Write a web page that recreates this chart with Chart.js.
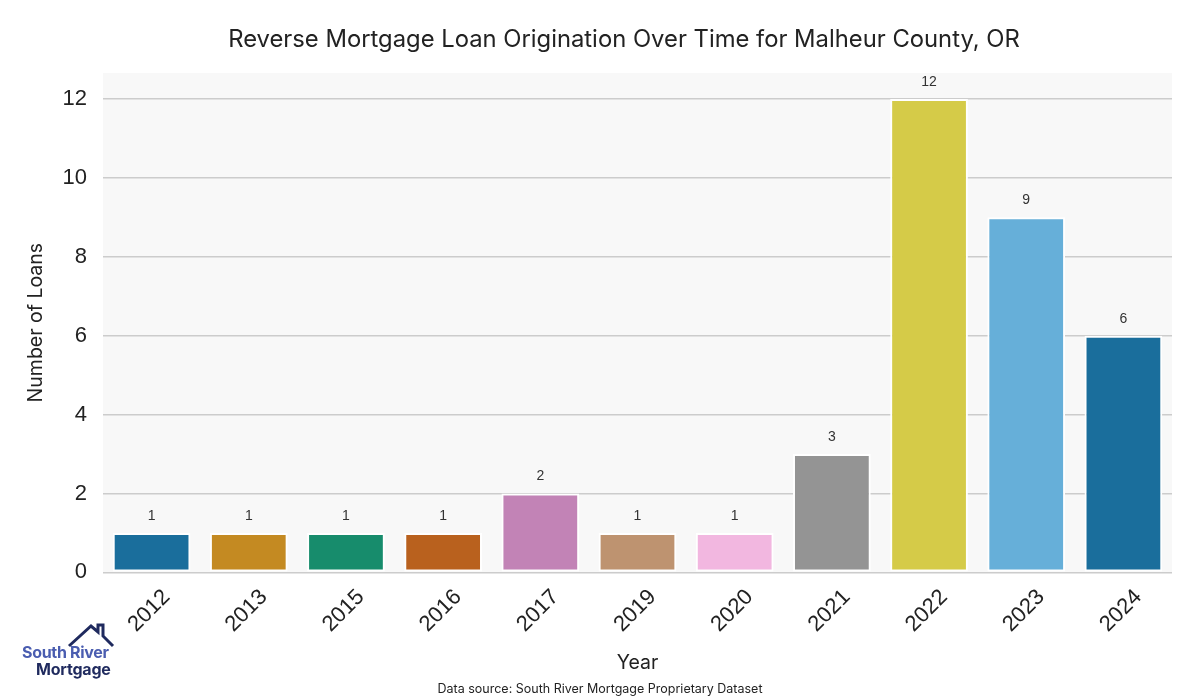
<!DOCTYPE html>
<html>
<head>
<meta charset="utf-8">
<script src="https://cdn.jsdelivr.net/npm/chart.js@4.4.1/dist/chart.umd.min.js"></script>
<style>
  html, body { margin: 0; padding: 0; background: #ffffff; }
  #wrap { position: relative; width: 1200px; height: 700px; }
  #logo { position: absolute; left: 22px; top: 620px; width: 100px; font-family: "Inter", "Noto Sans", sans-serif; font-weight: 700; line-height: 17px; }
  #logo .l1 { color: #4a5db0; font-size: 16px; letter-spacing: -0.3px; }
  #logo .l2 { color: #1f2a5e; font-size: 16px; letter-spacing: -0.2px; padding-left: 14px; }
  #logo svg { position: absolute; left: 43px; top: 2px; }
</style>
</head>
<body>
<div id="wrap">
  <canvas id="loans" width="1200" height="700"></canvas>
  <div id="logo">
    <svg width="50" height="26" viewBox="0 0 50 26">
      <polyline points="4,24 26,4 33,10 33,3 38,3 38,14 48,24" fill="none" stroke="#1f2a5e" stroke-width="3"/>
    </svg>
    <div style="height:24px"></div>
    <div class="l1">South River</div>
    <div class="l2">Mortgage</div>
  </div>
</div>
<script>
var years = ['2012', '2013', '2015', '2016', '2017', '2019', '2020', '2021', '2022', '2023', '2024'];
var loanCounts = [1, 1, 1, 1, 2, 1, 1, 3, 12, 9, 6];
var barColors = ['#1a6e9c', '#c48a22', '#178c6c', '#b9611e', '#c283b6', '#be9370',
                 '#f2b7e0', '#949494', '#d5cb48', '#66afd9', '#1a6e9c'];
var yTicks = [0, 2, 4, 6, 8, 10, 12];
var chartTitle = 'Reverse Mortgage Loan Origination Over Time for Malheur County, OR';
var sourceNote = 'Data source: South River Mortgage Proprietary Dataset';

// grey plot background behind the bars
var plotBg = {
  id: 'plotBg',
  beforeDraw: function (chart) {
    var a = chart.chartArea, ctx = chart.ctx;
    ctx.save();
    ctx.fillStyle = '#f8f8f8';
    ctx.fillRect(a.left, a.top, a.right - a.left, a.bottom - a.top);
    ctx.restore();
  }
};

// title on top, source note at the bottom
var figTexts = {
  id: 'figTexts',
  afterDraw: function (chart) {
    var ctx = chart.ctx;
    ctx.save();
    ctx.fillStyle = '#222222';
    ctx.textAlign = 'center';
    ctx.textBaseline = 'middle';
    ctx.font = '23.8px Inter, "Noto Sans", sans-serif';
    ctx.fillText(chartTitle, 624, 40);
    ctx.font = '12.5px Inter, "Noto Sans", sans-serif';
    ctx.fillText(sourceNote, 600, 689);
    ctx.restore();
  }
};

// count above every bar
var barLabels = {
  id: 'barLabels',
  afterDatasetsDraw: function (chart) {
    var ctx = chart.ctx;
    var meta = chart.getDatasetMeta(0);
    ctx.save();
    ctx.font = '14px "Liberation Sans", Arial, sans-serif';
    ctx.fillStyle = '#333333';
    ctx.textAlign = 'center';
    ctx.textBaseline = 'bottom';
    meta.data.forEach(function (bar, i) {
      ctx.fillText(String(loanCounts[i]), bar.x, bar.y - 10);
    });
    ctx.restore();
  }
};

new Chart('loans', {
  type: 'bar',
  data: {
    labels: years,
    datasets: [{
      data: loanCounts,
      backgroundColor: barColors,
      borderColor: '#ffffff',
      borderWidth: 2,
      borderSkipped: false,
      categoryPercentage: 0.8,
      barPercentage: 1.0
    }]
  },
  options: {
    responsive: false,
    animation: false,
    layout: { padding: { left: 24, right: 28, top: 73, bottom: 25 } },
    plugins: {
      legend: { display: false },
      tooltip: { enabled: false },
      title: { display: false }
    },
    scales: {
      x: {
        afterFit: function (scale) {
          scale.paddingLeft = 0;
          scale.paddingRight = 0;
        },
        grid: { display: false, drawTicks: false },
        border: { display: false },
        ticks: {
          color: '#222222',
          font: { family: '"Liberation Sans", Arial, sans-serif', size: 22 },
          minRotation: 45,
          maxRotation: 45,
          padding: 12,
          labelOffset: 15
        },
        title: {
          display: true,
          text: 'Year',
          color: '#222222',
          font: { family: 'Inter, "Noto Sans", sans-serif', size: 19.5 },
          padding: { top: 2, bottom: 0 }
        }
      },
      y: {
        min: 0,
        max: 12.66,
        afterBuildTicks: function (axis) {
          axis.ticks = yTicks.map(function (v) { return { value: v }; });
        },
        afterFit: function (scale) {
          scale.width = 79;
        },
        grid: { color: '#cccccc', lineWidth: 1.5, drawTicks: false },
        border: { display: false },
        ticks: {
          color: '#222222',
          font: { family: '"Liberation Sans", Arial, sans-serif', size: 22 },
          padding: 16
        },
        title: {
          display: true,
          text: 'Number of Loans',
          color: '#222222',
          font: { family: 'Inter, "Noto Sans", sans-serif', size: 19.5 },
          padding: { top: 0, bottom: 15 }
        }
      }
    }
  },
  plugins: [plotBg, barLabels, figTexts]
});
</script>
</body>
</html>
